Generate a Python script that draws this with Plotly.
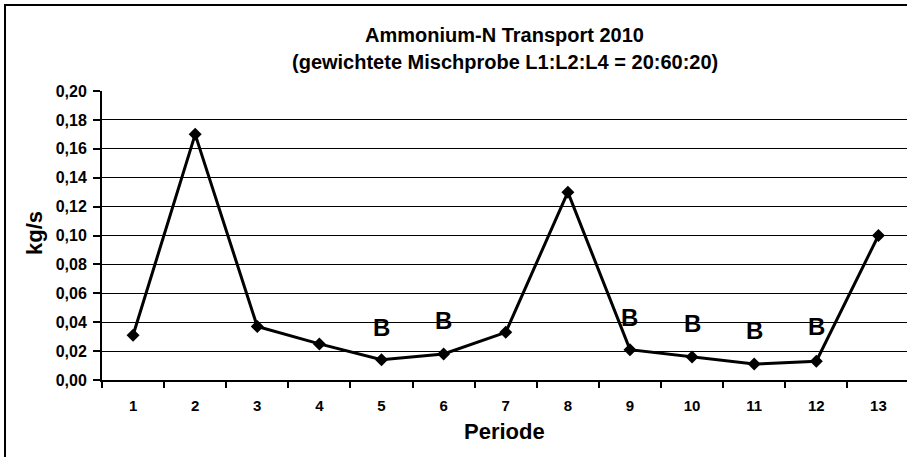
import plotly.graph_objects as go

periods = ["1", "2", "3", "4", "5", "6", "7", "8", "9", "10", "11", "12", "13"]
values = [0.031, 0.170, 0.037, 0.025, 0.014, 0.018, 0.033, 0.130, 0.021, 0.016, 0.011, 0.013, 0.100]
b_periods = ["5", "6", "9", "10", "11", "12"]
b_levels = [0.036, 0.0415, 0.0435, 0.039, 0.034, 0.0367]
y_ticks = [0.00, 0.02, 0.04, 0.06, 0.08, 0.10, 0.12, 0.14, 0.16, 0.18, 0.20]

FONT = "Liberation Sans, Arial, sans-serif"
W, H = 907, 457
L, R, T, B = 102, 0, 91, 77
pw, ph = W - L - R, H - T - B

fig = go.Figure()
fig.add_trace(go.Scatter(
    x=periods, y=values, mode="lines+markers",
    line=dict(color="black", width=3),
    marker=dict(symbol="diamond", size=10, color="black"),
    showlegend=False, cliponaxis=False,
))

for p, lv in zip(b_periods, b_levels):
    fig.add_annotation(x=periods.index(p), y=lv, text="B", showarrow=False,
                       xanchor="center", yanchor="middle",
                       font=dict(family=FONT, size=24, color="black", weight="bold"))

def px_x(px):
    return (px - L) / pw

def px_y(py):
    return (H - B - py) / ph

fig.add_shape(type="rect", xref="paper", yref="paper",
              x0=px_x(5), x1=px_x(960), y0=px_y(490), y1=px_y(5),
              line=dict(color="black", width=2), layer="below")

texts = [
    ("Ammonium-N Transport 2010", 0.5, px_y(35), 20, 0),
    ("(gewichtete Mischprobe L1:L2:L4 = 20:60:20)", 0.5, px_y(62), 20, 0),
    ("kg/s", px_x(34), px_y(233), 22, -90),
    ("Periode", 0.5, px_y(431), 22, 0),
]
for txt, x, y, size, ang in texts:
    fig.add_annotation(xref="paper", yref="paper", x=x, y=y, text=txt,
                       showarrow=False, textangle=ang,
                       xanchor="center", yanchor="middle",
                       font=dict(family=FONT, size=size, color="black", weight="bold"))

fig.update_layout(
    width=W, height=H,
    margin=dict(l=L, r=R, t=T, b=B),
    paper_bgcolor="white", plot_bgcolor="white",
    separators=",.",
    font=dict(family=FONT, color="black"),
    xaxis=dict(
        type="category", range=[-0.5, 12.46],
        tickson="boundaries", ticks="outside", ticklen=6, tickcolor="black", tickwidth=1.5,
        showgrid=False, showline=True, linecolor="black", linewidth=2,
        tickfont=dict(family=FONT, size=15, color="black", weight="bold"),
        ticklabelstandoff=11,
    ),
    yaxis=dict(
        range=[0, 0.20], tickvals=y_ticks, tickformat=".2f",
        ticks="outside", ticklen=7, tickcolor="black", tickwidth=1.5,
        showgrid=True, gridcolor="black", gridwidth=1,
        showline=True, linecolor="black", linewidth=2,
        zeroline=False,
        tickfont=dict(family=FONT, size=16, color="black", weight="bold"),
        ticklabelstandoff=3,
    ),
)

fig.write_html("out.html", config={"displayModeBar": False},
               post_script="document.body.style.margin='0';document.body.style.overflow='hidden';")
